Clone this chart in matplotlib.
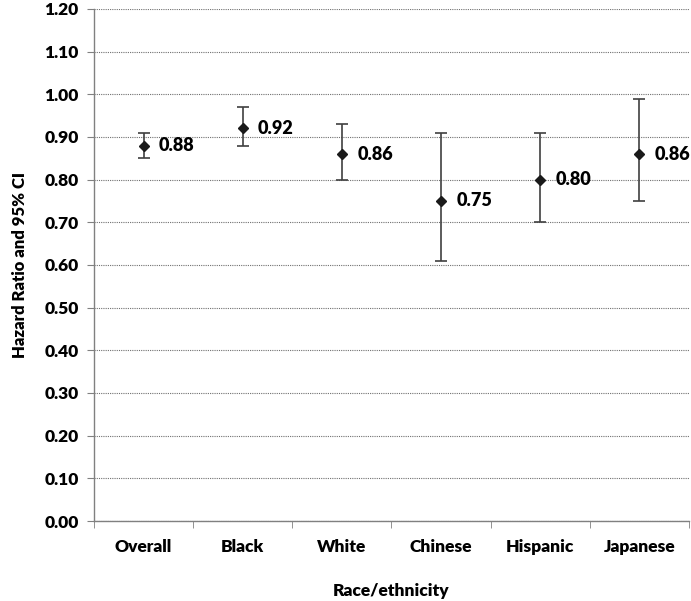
import matplotlib
matplotlib.use("Agg")
import matplotlib.pyplot as plt
from matplotlib.ticker import MultipleLocator, FormatStrFormatter

categories = ["Overall", "Black", "White", "Chinese", "Hispanic", "Japanese"]
hr = [0.88, 0.92, 0.86, 0.75, 0.80, 0.86]
ci_low = [0.85, 0.88, 0.80, 0.61, 0.70, 0.75]
ci_high = [0.91, 0.97, 0.93, 0.91, 0.91, 0.99]

plt.rcParams['font.family'] = ['Lato', 'DejaVu Sans']

fig = plt.figure(figsize=(6.91, 6.01), dpi=100)
ax = fig.add_axes([0.136, 0.1331, 0.861, 0.852])

x = list(range(1, len(categories) + 1))
yerr = [[h - l for h, l in zip(hr, ci_low)], [u - h for h, u in zip(hr, ci_high)]]
ax.errorbar(x, hr, yerr=yerr, fmt='D', color='#1a1a1a', markersize=5,
            ecolor='#404040', elinewidth=1.2, capsize=4, capthick=1.2, zorder=3)
for xi, h in zip(x, hr):
    ax.annotate(f"{h:.2f}", (xi, h), xytext=(11, 0), textcoords='offset points',
                va='center', ha='left', fontsize=13, fontweight='heavy')

ax.set_xlim(0.5, len(categories) + 0.5)
ax.set_ylim(0, 1.2)
ax.yaxis.set_major_locator(MultipleLocator(0.1))
ax.yaxis.set_major_formatter(FormatStrFormatter('%.2f'))
ax.set_xticks(x)
ax.set_xticklabels(categories)
ax.set_xticks([i + 0.5 for i in range(0, len(categories) + 1)], minor=True)
ax.tick_params(axis='x', which='major', length=0, pad=13)
ax.tick_params(axis='x', which='minor', length=5, color='#808080', direction='out')
ax.tick_params(axis='y', which='major', length=5, color='#808080', direction='out', pad=6)
for lab in ax.get_xticklabels() + ax.get_yticklabels():
    lab.set_fontweight('heavy')
    lab.set_fontsize(12.5)

ax.grid(axis='y', linestyle=(0, (1, 1)), color='#707070', linewidth=0.8)
ax.set_axisbelow(True)
for s in ['top', 'right']:
    ax.spines[s].set_visible(False)
for s in ['left', 'bottom']:
    ax.spines[s].set_color('#808080')
    ax.spines[s].set_linewidth(1.0)

ax.set_ylabel("Hazard Ratio and 95% CI", fontsize=12, fontweight='heavy', labelpad=12)
ax.set_xlabel("Race/ethnicity", fontsize=12.5, fontweight='heavy', labelpad=20)

fig.savefig("out.png", dpi=100)
